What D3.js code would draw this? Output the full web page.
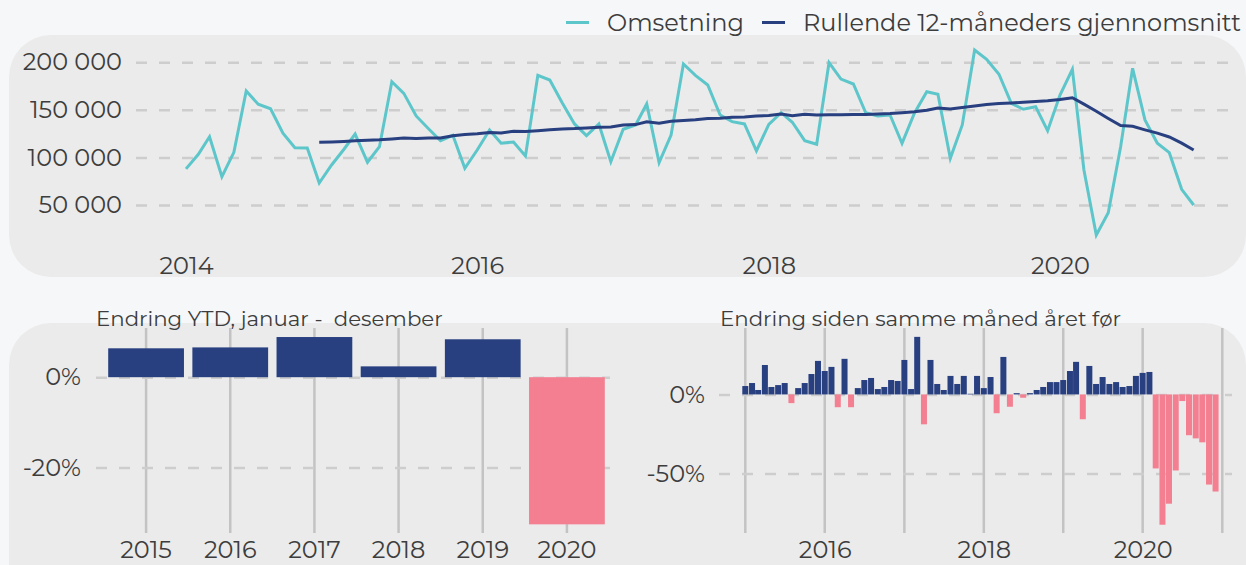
<!DOCTYPE html>
<html>
<head>
<meta charset="utf-8">
<script src="https://cdn.jsdelivr.net/npm/d3@7"></script>
<style>
  html, body { margin: 0; padding: 0; background: #f6f7f9; }
  svg text { font-family: Montserrat, "Open Sans", sans-serif; fill: #3d3d3d; }
</style>
</head>
<body>
<svg id="chart" width="1246" height="565"></svg>
<script>
// ---------------- DATA ----------------
const seriesNames = ["Omsetning", "Rullende 12-måneders gjennomsnitt"];
const startYear = 2014;                       // first month: January 2014
const omsetning = [
  88000, 103300, 121800, 79800, 105400, 169800, 155900, 151200, 125400, 110200, 109900, 73100,
  92100, 108600, 124600, 94900, 111300, 179600, 167400, 143600, 130200, 117600, 123300, 88600,
  107800, 128800, 114900, 116200, 101500, 186300, 181400, 157500, 135200, 122900, 135200, 95500,
  129600, 134100, 156200, 94500, 123600, 198200, 186300, 176100, 144600, 137600, 135200, 106800,
  134800, 147000, 137000, 117600, 113800, 199600, 182400, 177200, 147000, 143600, 144600, 114900,
  146500, 169100, 166400, 99100, 134100, 212900, 203100, 187500, 156900, 150600, 153300, 128100,
  165600, 192600, 86800, 18500, 41900, 111300, 193700, 139400, 114900, 105000, 66500, 50000
];
const rollingStartIndex = 11;                 // December 2014
const rulende = [
  115900, 116300, 116800, 117500, 118000, 118500, 119500, 120500, 120000, 120300,
  120500, 122800, 124000, 125000, 126300, 125600, 127500, 127200, 128000, 129000,
  130000, 130300, 131000, 131800, 132000, 134000, 134500, 137500, 136000, 138000,
  138900, 139500, 140800, 141300, 142300, 142500, 143500, 144000, 145600, 143800,
  145500, 144700, 144800, 144800, 145000, 145100, 145700, 146200, 147000, 148000,
  149500, 152000, 150800, 152500, 154000, 155700, 156700, 157300, 158000, 158800,
  159500, 161000, 162800, 156000, 148500, 141000, 133500, 132700, 129000, 125500,
  121500, 115000, 107800
];
const topYTicks = [50000, 100000, 150000, 200000];
const topXTickYears = [2014, 2016, 2018, 2020];

const ytdTitle = "Endring YTD, januar -  desember";
const ytdYears = ["2015", "2016", "2017", "2018", "2019", "2020"];
const ytdChange = [6.4, 6.6, 8.9, 2.4, 8.4, -32.6];
const ytdYTicks = [0, -20];

const yoyTitle = "Endring siden samme måned året før";
const yoyStartYear = 2015;                    // first month: January 2015
const yoyChange = [
  5.3, 7.2, 2.8, 18.6, 4.7, 5.9, 7.2, -5.5, 4.0, 7.2, 12.9, 21.2,
  14.8, 17.4, -8.1, 22.5, -8.1, 4.0, 9.1, 10.4, 3.4, 4.7, 9.1, 8.5,
  21.8, 3.4, 36.4, -18.9, 21.8, 6.6, 2.8, 11.7, 6.6, 11.7, 0.4, 11.7,
  4.0, 11.0, -11.9, 23.7, -7.8, 0.8, -2.1, 0.8, 2.8, 4.7, 7.8, 7.8,
  9.1, 14.8, 20.6, -15.7, 18.0, 6.6, 11.0, 6.6, 7.8, 4.7, 5.3, 11.7,
  13.6, 14.2, -46.8, -82.4, -69.1, -48.1, -4.2, -25.8, -27.8, -30.3, -57.0, -61.4
];
const yoyYTicks = [0, -50];
const yoyXTickYears = [2016, 2018, 2020];
const yoyGridYears = [2015, 2016, 2017, 2018, 2019, 2020, 2021];

// ---------------- STYLE ----------------
const C = {
  cyan: "#5dc6ca", navy: "#283f80", pink: "#f37f91",
  panel: "#ebebeb", grid: "#cdcdcd", vgrid: "#c3c3c3"
};
const FS = 24, FS_TITLE = 21.3;

const svg = d3.select("#chart");
const locale = d3.formatLocale({ decimal: ",", thousands: "\u00a0", grouping: [3], currency: ["", " kr"], minus: "-" });
const fmtThousands = locale.format(",.0f");
const fmtPct = d => locale.format(".0f")(d) + "%";

// ---------------- PANELS ----------------
svg.append("rect").attr("x", 9).attr("y", 35).attr("width", 1237).attr("height", 242)
  .attr("rx", 42).attr("fill", C.panel);
svg.append("rect").attr("x", 9).attr("y", 323).attr("width", 1237).attr("height", 300)
  .attr("rx", 42).attr("fill", C.panel);

// ---------------- TOP CHART ----------------
const topDates = omsetning.map((_, i) => new Date(startYear, i, 1));
const xTop = d3.scaleTime()
  .domain([new Date(2014, 0, 1), new Date(2020, 0, 1)])
  .range([186, 1060]);
const yTop = d3.scaleLinear().domain([50000, 200000]).range([205, 62.3]);

const gTop = svg.append("g");
const yAxisTop = d3.axisLeft(yTop).tickValues(topYTicks).tickFormat(fmtThousands)
  .tickSize(-(1240 - 136)).tickPadding(14);
const gyTop = gTop.append("g").attr("transform", "translate(136,0)").call(yAxisTop);
gyTop.select(".domain").remove();
gyTop.selectAll(".tick line").attr("stroke", C.grid).attr("stroke-width", 2.5).attr("stroke-dasharray", "11,12");
gyTop.selectAll(".tick text").attr("font-size", FS).attr("x", -14).style("font-family", null);

const xAxisTop = d3.axisBottom(xTop).tickValues(topXTickYears.map(y => new Date(y, 0, 1)))
  .tickFormat(d3.timeFormat("%Y")).tickSize(0).tickPadding(0);
const gxTop = gTop.append("g").attr("transform", "translate(0,257)").call(xAxisTop);
gxTop.select(".domain").remove();
gxTop.selectAll(".tick text").attr("font-size", FS).attr("dy", "0.71em").style("font-family", null);

const lineGen = d3.line().x(d => xTop(d.date)).y(d => yTop(d.v));
gTop.append("path")
  .datum(omsetning.map((v, i) => ({ date: topDates[i], v })))
  .attr("fill", "none").attr("stroke", C.cyan).attr("stroke-width", 3)
  .attr("stroke-linejoin", "miter").attr("d", lineGen);
gTop.append("path")
  .datum(rulende.map((v, i) => ({ date: topDates[i + rollingStartIndex], v })))
  .attr("fill", "none").attr("stroke", C.navy).attr("stroke-width", 3)
  .attr("d", lineGen);

// legend
const legend = svg.append("g");
const legendItems = [
  { name: seriesNames[0], color: C.cyan, x: 566 },
  { name: seriesNames[1], color: C.navy, x: 762 }
];
legendItems.forEach(it => {
  legend.append("line").attr("x1", it.x).attr("x2", it.x + 23).attr("y1", 22.5).attr("y2", 22.5)
    .attr("stroke", it.color).attr("stroke-width", 3);
  legend.append("text").attr("x", it.x + 41).attr("y", 22.5).attr("dy", "0.35em")
    .attr("font-size", FS).text(it.name);
});

// ---------------- BOTTOM LEFT: YTD ----------------
const gL = svg.append("g");
const xL = d3.scaleBand().domain(ytdYears).range([104, 609]).paddingInner(0.1).paddingOuter(0.05);
const yL = d3.scaleLinear().domain([-34.3, 10.9]).range([532, 328]);

gL.selectAll("line.vg").data(ytdYears).join("line")
  .attr("x1", d => xL(d) + xL.bandwidth() / 2).attr("x2", d => xL(d) + xL.bandwidth() / 2)
  .attr("y1", 328).attr("y2", 533).attr("stroke", C.vgrid).attr("stroke-width", 2.5);
const yAxisL = d3.axisLeft(yL).tickValues(ytdYTicks).tickFormat(fmtPct).tickSize(-(610 - 96)).tickPadding(15);
const gyL = gL.append("g").attr("transform", "translate(96,0)").call(yAxisL);
gyL.select(".domain").remove();
gyL.selectAll(".tick line").attr("stroke", C.grid).attr("stroke-width", 2.5).attr("stroke-dasharray", "11,12");
gyL.selectAll(".tick text").attr("font-size", FS).style("font-family", null);
gL.selectAll("rect.bar").data(ytdYears).join("rect")
  .attr("x", d => xL(d)).attr("width", xL.bandwidth())
  .attr("y", (d, i) => yL(Math.max(0, ytdChange[i])))
  .attr("height", (d, i) => Math.abs(yL(ytdChange[i]) - yL(0)))
  .attr("fill", (d, i) => ytdChange[i] < 0 ? C.pink : C.navy);
const xAxisL = d3.axisBottom(xL).tickSize(0).tickPadding(0);
const gxL = gL.append("g").attr("transform", "translate(0,541)").call(xAxisL);
gxL.select(".domain").remove();
gxL.selectAll(".tick text").attr("font-size", FS).attr("dy", "0.71em").style("font-family", null);
svg.append("text").attr("x", 96).attr("y", 326).attr("font-size", FS_TITLE)
  .style("white-space", "pre").text(ytdTitle);

// ---------------- BOTTOM RIGHT: YoY ----------------
const gR = svg.append("g");
const yoyDates = yoyChange.map((_, i) => new Date(yoyStartYear, i, 1));
const xR = d3.scaleTime().domain([new Date(2015, 0, 1), new Date(2021, 0, 1)]).range([745.3, 1222.3]);
const yR = d3.scaleLinear().domain([-87, 42]).range([532, 328]);

gR.selectAll("line.vg").data(yoyGridYears).join("line")
  .attr("x1", d => xR(new Date(d, 0, 1))).attr("x2", d => xR(new Date(d, 0, 1)))
  .attr("y1", 328).attr("y2", 533).attr("stroke", C.vgrid).attr("stroke-width", 2.5);
const yAxisR = d3.axisLeft(yR).tickValues(yoyYTicks).tickFormat(fmtPct).tickSize(-(1232 - 719)).tickPadding(14);
const gyR = gR.append("g").attr("transform", "translate(719,0)").call(yAxisR);
gyR.select(".domain").remove();
gyR.selectAll(".tick line").attr("stroke", C.grid).attr("stroke-width", 2.5).attr("stroke-dasharray", "11,12");
gyR.selectAll(".tick text").attr("font-size", FS).style("font-family", null);

const barW = 6;
gR.selectAll("rect.bar").data(yoyChange).join("rect")
  .attr("x", (d, i) => xR(yoyDates[i]) - barW / 2).attr("width", barW)
  .attr("y", d => yR(Math.max(0, d)))
  .attr("height", d => Math.abs(yR(d) - yR(0)))
  .attr("fill", d => d < 0 ? C.pink : C.navy);

const xAxisR = d3.axisBottom(xR).tickValues(yoyXTickYears.map(y => new Date(y, 0, 1)))
  .tickFormat(d3.timeFormat("%Y")).tickSize(0).tickPadding(0);
const gxR = gR.append("g").attr("transform", "translate(0,541)").call(xAxisR);
gxR.select(".domain").remove();
gxR.selectAll(".tick text").attr("font-size", FS).attr("dy", "0.71em").style("font-family", null);

svg.append("text").attr("x", 720).attr("y", 326).attr("font-size", FS_TITLE).text(yoyTitle);
</script>
</body>
</html>
